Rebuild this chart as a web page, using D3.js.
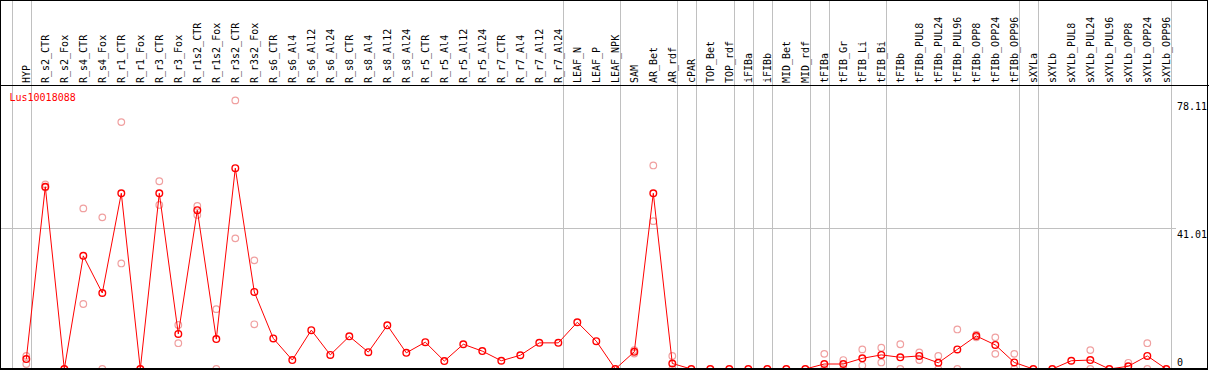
<!DOCTYPE html>
<html>
<head>
<meta charset="utf-8">
<script src="https://cdnjs.cloudflare.com/ajax/libs/d3/7.8.5/d3.min.js"></script>
<style>
  body { margin: 0; background: #fff; }
  text { font-family: "DejaVu Sans Mono", monospace; font-size: 10px; }
</style>
</head>
<body>
<script>
// sample names along the x axis
var samples = ["HYP","R_s2_CTR","R_s2_Fox","R_s4_CTR","R_s4_Fox","R_r1_CTR","R_r1_Fox","R_r3_CTR","R_r3_Fox",
  "R_r1s2_CTR","R_r1s2_Fox","R_r3s2_CTR","R_r3s2_Fox","R_s6_CTR","R_s6_Al4","R_s6_Al12","R_s6_Al24",
  "R_s8_CTR","R_s8_Al4","R_s8_Al12","R_s8_Al24","R_r5_CTR","R_r5_Al4","R_r5_Al12","R_r5_Al24",
  "R_r7_CTR","R_r7_Al4","R_r7_Al12","R_r7_Al24","LEAF_N","LEAF_P","LEAF_NPK","SAM","AR_Bet","AR_rdf",
  "cPAR","TOP_Bet","TOP_rdf","iFIBa","iFIBb","MID_Bet","MID_rdf","tFIBa","tFIB_Gr","tFIB_Li","tFIB_Bi",
  "tFIBb","tFIBb_PUL8","tFIBb_PUL24","tFIBb_PUL96","tFIBb_OPP8","tFIBb_OPP24","tFIBb_OPP96",
  "sXYLa","sXYLb","sXYLb_PUL8","sXYLb_PUL24","sXYLb_PUL96","sXYLb_OPP8","sXYLb_OPP24","sXYLb_OPP96"];

// mean expression per sample
var means = [2.9,53.0,0,32.9,22.1,51.1,0,51.1,10.2,46.2,8.7,58.4,22.4,8.9,2.6,11.3,4.1,
  9.5,4.9,12.7,4.7,7.8,2.3,7.2,5.2,2.4,4.0,7.6,7.6,13.6,8.1,0,5.0,51.1,1.6,
  0,0,0,0,0,0,0,1.45,1.45,3.1,4.1,3.4,3.8,1.8,5.7,9.6,7.0,1.9,
  0,0,2.4,2.6,0,0.8,3.8,0];

// replicate values (null = none drawn)
var repHigh = [3.8,53.7,null,46.7,44.1,71.8,null,54.6,12.8,47.4,17.4,78.11,31.6,null,null,null,null,
  null,null,null,null,null,null,null,null,null,null,null,null,null,null,null,5.5,59.2,3.8,
  null,null,null,null,null,null,null,4.4,2.6,5.7,6.2,7.2,4.8,3.8,11.5,10.0,9.2,4.4,
  null,null,null,5.5,null,1.8,7.5,null];
var repLow = [1.45,52.8,null,18.9,0,30.7,null,47.7,7.5,44.8,0,38.0,13.0,null,null,null,null,
  null,null,null,null,null,null,null,null,null,null,null,null,null,null,null,4.5,43.0,0,
  null,null,null,null,null,null,null,0,0,1.0,1.9,0,2.6,0,0,9.2,4.4,0,
  null,null,null,0,null,0,0,null];

// group boundaries (index of the sample right after each vertical line)
var groupBreaks = [0,1,29,32,35,36,38,39,40,42,43,46,53,54,61];

// y tick labels on the right
var yTicks = [0, 41.01, 78.11];
var geneName = "Lus10018088";

window.onload = function(){
  var w = 1209, h = 370;

  var svg = d3.select("body")
    .append("svg")
    .attr("width", w)
    .attr("height", h);

  // column scale, each sample gets a 19px band
  var band = d3.scaleBand()
    .domain(d3.range(samples.length + 1))
    .range([11.7, 11.7 + 19 * (samples.length + 1)]);
  var x = function(i){ return band(i) + 14.6; };
  var edge = function(k){ return band(k); };

  var y = d3.scaleLinear()
    .domain([0, 78.11])
    .range([369, 100.4]);

  // vertical group lines
  svg.selectAll(".vgrid")
    .data(groupBreaks)
    .enter()
    .append("line")
    .attr("class", "vgrid")
    .attr("x1", function(d){ return Math.round(edge(d)) + 0.5; })
    .attr("x2", function(d){ return Math.round(edge(d)) + 0.5; })
    .attr("y1", 0)
    .attr("y2", 369)
    .style("stroke", "#c0c0c0")
    .style("stroke-width", 1);

  // horizontal mid grid line
  svg.append("line")
    .attr("x1", 1)
    .attr("x2", 1176)
    .attr("y1", Math.round(y(yTicks[1])) + 0.5)
    .attr("y2", Math.round(y(yTicks[1])) + 0.5)
    .style("stroke", "#c0c0c0")
    .style("stroke-width", 1);

  // header separator
  svg.append("line")
    .attr("x1", 0).attr("x2", w)
    .attr("y1", 85.5).attr("y2", 85.5)
    .style("stroke", "#000");

  // rotated sample labels
  svg.selectAll(".slabel")
    .data(samples)
    .enter()
    .append("text")
    .attr("class", "slabel")
    .attr("transform", function(d, i){
      return "translate(" + (x(i) + 3.5) + ",83) rotate(-90)";
    })
    .style("fill", "#000")
    .text(function(d){ return d; });

  // tick labels on the right
  svg.selectAll(".ylabel")
    .data(yTicks)
    .enter()
    .append("text")
    .attr("class", "ylabel")
    .attr("x", 1177)
    .attr("y", function(d){
      return d === 0 ? 366 : y(d) + 10;
    })
    .style("fill", "#000")
    .text(function(d){ return d === 0 ? "0" : d.toFixed(2); });

  // gene name
  svg.append("text")
    .attr("x", 9.5)
    .attr("y", 101)
    .style("fill", "#ff0000")
    .text(geneName);

  // replicate points (pale)
  var reps = [];
  samples.forEach(function(s, i){
    if (repHigh[i] !== null) reps.push({i: i, v: repHigh[i]});
    if (repLow[i] !== null) reps.push({i: i, v: repLow[i]});
  });

  svg.selectAll(".rep")
    .data(reps)
    .enter()
    .append("circle")
    .attr("class", "rep")
    .attr("cx", function(d){ return x(d.i); })
    .attr("cy", function(d){ return y(d.v); })
    .attr("r", 3.3)
    .style("fill", "none")
    .style("stroke", "#f0a0a0")
    .style("stroke-width", 1.2);

  // mean line
  var line = d3.line()
    .x(function(d, i){ return x(i); })
    .y(function(d){ return y(d); });

  svg.append("path")
    .datum(means)
    .attr("d", line)
    .style("fill", "none")
    .style("stroke", "#ff0000")
    .style("stroke-width", 1);

  svg.selectAll(".mean")
    .data(means)
    .enter()
    .append("circle")
    .attr("class", "mean")
    .attr("cx", function(d, i){ return x(i); })
    .attr("cy", function(d){ return y(d); })
    .attr("r", 3.3)
    .style("fill", "none")
    .style("stroke", "#ff0000")
    .style("stroke-width", 1.4);

  // frame
  svg.append("rect")
    .attr("x", 0.5).attr("y", 0.5)
    .attr("width", 1207).attr("height", 368)
    .style("fill", "none")
    .style("stroke", "#000");
  svg.append("line")
    .attr("x1", 0).attr("x2", 1208)
    .attr("y1", 369).attr("y2", 369)
    .style("stroke", "#000")
    .style("stroke-width", 2);
};
</script>
</body>
</html>
